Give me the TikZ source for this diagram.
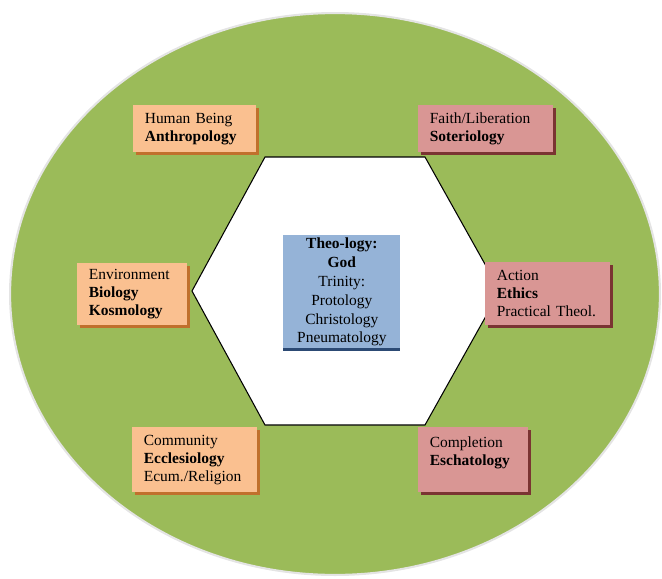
\documentclass[tikz,border=0pt]{standalone}
\usepackage{fontspec}
\setmainfont{Liberation Serif}
\usetikzlibrary{shadows}
\definecolor{ovalGreen}{HTML}{9BBB59}
\definecolor{ovalRim}{HTML}{E4E4E4}
\definecolor{orangeFill}{HTML}{FAC090}
\definecolor{orangeShade}{HTML}{C0702C}
\definecolor{roseFill}{HTML}{D99694}
\definecolor{roseShade}{HTML}{7A3432}
\definecolor{blueFill}{HTML}{95B3D7}
\definecolor{blueShade}{HTML}{2C4A74}
\begin{document}
\begin{tikzpicture}
[x=0.02cm, y=-0.02cm,
  ovalDecorate/.style={fill=ovalGreen,draw=ovalRim,line width=1.2pt},%
  hexDecorate/.style={fill=white,draw=black,line width=0.6pt},%
  boxDecorate/.style={anchor=north west,align=left,inner xsep=0.23cm,inner ysep=0pt,
    font=\fontsize{8.8}{10.2}\selectfont},%
  orangeBox/.style={boxDecorate,fill=orangeFill,
    general shadow={fill=orangeShade,shadow xshift=0.06cm,shadow yshift=-0.06cm}},%
  roseBox/.style={boxDecorate,fill=roseFill,
    general shadow={fill=roseShade,shadow xshift=0.06cm,shadow yshift=-0.06cm}},%
  blueBox/.style={boxDecorate,fill=blueFill,align=center,
    font=\fontsize{8.8}{10.8}\selectfont,
    general shadow={fill=blueShade,shadow xshift=0cm,shadow yshift=-0.05cm}}]
\useasboundingbox (0,0) rectangle (662,578);
%% green oval
\draw[ovalDecorate] (335,294) ellipse [x radius=6.5cm, y radius=5.62cm];
%% hexagon
\coordinate (hexW) at (192,291);
\coordinate (hexNW) at (265,157);
\coordinate (hexNE) at (425,157);
\coordinate (hexE) at (500,291);
\coordinate (hexSE) at (425,425);
\coordinate (hexSW) at (265,425);
\draw[hexDecorate] (hexW) -- (hexNW) -- (hexNE) -- (hexE) -- (hexSE) -- (hexSW) -- cycle;
%% centre
\node (theology) at (283,235) [blueBox,minimum width=2.34cm,minimum height=2.26cm]
  {\textbf{Theo-logy:}\\\textbf{God}\\Trinity:\\Protology\\Christology\\Pneumatology};
%% boxes round the hexagon
\node (human) at (133,105) [orangeBox,text width=2.0cm,minimum height=0.94cm]
  {Human Being\\\textbf{Anthropology}};
\node (faith) at (418,105) [roseBox,text width=2.24cm,minimum height=0.94cm]
  {Faith/Liberation\\\textbf{Soteriology}};
\node (environment) at (77,263) [orangeBox,text width=1.74cm,minimum height=1.24cm]
  {Environment\\\textbf{Biology}\\\textbf{Kosmology}};
\node (action) at (485,262) [roseBox,text width=2.04cm,minimum height=1.26cm]
  {Action\\\textbf{Ethics}\\Practical Theol.};
\node (community) at (132,427) [orangeBox,text width=2.04cm,minimum height=1.3cm]
  {Community\\\textbf{Ecclesiology}\\Ecum./Religion};
\node (completion) at (418,427) [roseBox,text width=1.74cm,minimum height=1.3cm]
  {Completion\\\textbf{Eschatology}\\ \mbox{}};
\end{tikzpicture}
\end{document}
